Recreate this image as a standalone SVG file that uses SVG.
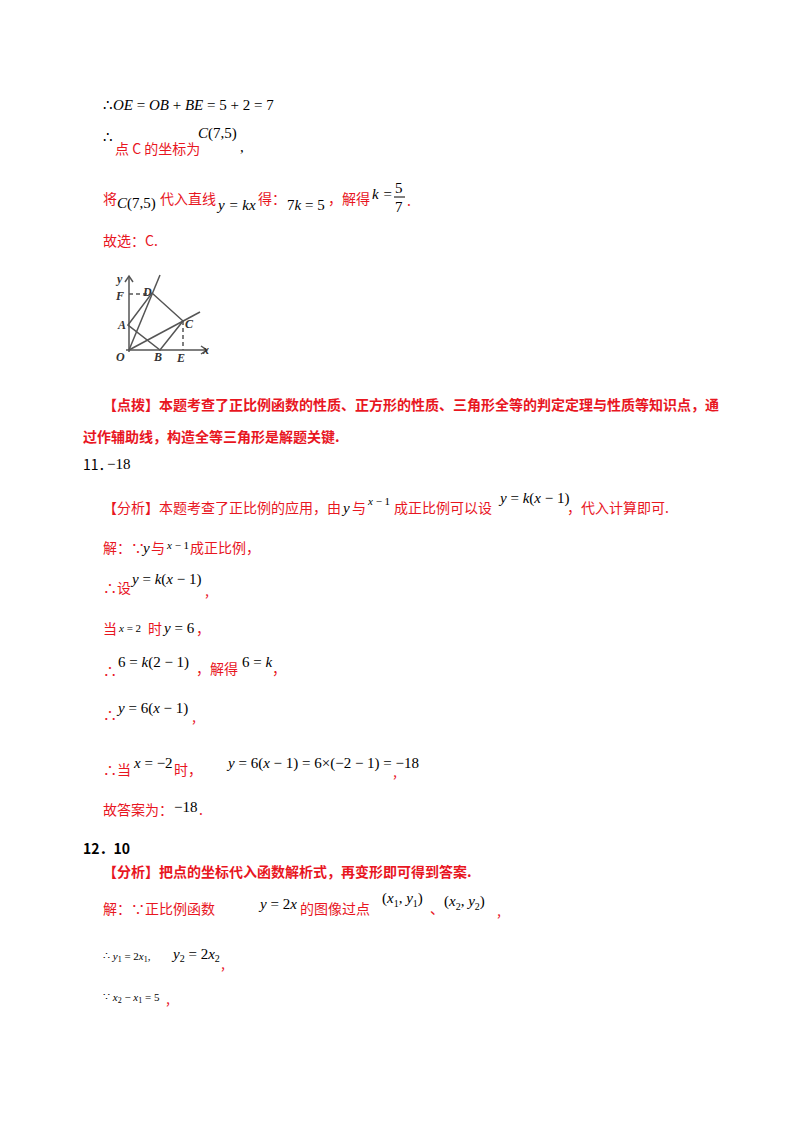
<svg xmlns="http://www.w3.org/2000/svg" width="800" height="1132" viewBox="0 0 800 1132">
<style>
.m{font-family:"Liberation Serif",serif;font-size:15px;fill:#000}
.i{font-style:italic}
.r{font-family:"Noto Sans CJK SC","Liberation Sans",sans-serif;font-size:14px;fill:#e8161f}
.b{font-family:"Noto Sans CJK SC","Liberation Sans",sans-serif;font-size:14px;fill:#000}
.s{font-size:11px}
.g{stroke:#555;stroke-width:1.5;fill:none}
.lb{font-family:"Liberation Serif",serif;font-style:italic;font-weight:bold;font-size:12px;fill:#333}
</style>
<rect width="800" height="1132" fill="#fff"/>
<text class="m" x="103" y="110">∴<tspan class="i">OE</tspan> = <tspan class="i">OB</tspan> + <tspan class="i">BE</tspan> = 5 + 2 = 7</text>
<text class="m" x="103" y="142">∴</text>
<text class="r" x="115" y="154">点 C 的坐标为</text>
<text class="m" x="198" y="138"><tspan class="i">C</tspan>(7,5)</text>
<text class="m" x="240" y="152">,</text>
<text class="r" x="103" y="204">将</text>
<text class="m" x="117" y="208"><tspan class="i">C</tspan>(7,5)</text>
<text class="r" x="160" y="204">代入直线</text>
<text class="m i" x="218" y="210">y = kx</text>
<text class="r" x="258" y="204">得：</text>
<text class="m" x="287" y="210">7<tspan class="i">k</tspan> = 5</text>
<text class="r" x="328" y="204">，解得</text>
<text class="m i" x="372" y="199">k =</text>
<text class="m" x="395" y="193">5</text>
<line x1="394" y1="197" x2="405" y2="197" stroke="#000" stroke-width="1"/>
<text class="m" x="395" y="212">7</text>
<text class="r" x="407" y="206">.</text>
<text class="r" x="103" y="246">故选：C.</text>
<g id="figure">
<line class="g" x1="129" y1="352" x2="129" y2="276"/>
<polyline class="g" points="125,282 129,276 133,282"/>
<line class="g" x1="126" y1="350" x2="207" y2="350"/>
<polyline class="g" points="201,346 207,350 201,354"/>
<line class="g" x1="129" y1="350" x2="160" y2="275"/>
<line class="g" x1="129" y1="350" x2="200" y2="312"/>
<polygon class="g" points="128,325 152,293 183,321 160,350"/>
<line class="g" x1="129" y1="294" x2="150" y2="294" stroke-dasharray="4,3"/>
<line class="g" x1="183" y1="321" x2="183" y2="350" stroke-dasharray="4,3"/>
<text class="lb" x="117" y="283">y</text>
<text class="lb" x="116" y="300">F</text>
<text class="lb" x="143" y="296">D</text>
<text class="lb" x="118" y="329">A</text>
<text class="lb" x="185" y="328">C</text>
<text class="lb" x="116" y="361">O</text>
<text class="lb" x="154" y="361">B</text>
<text class="lb" x="177" y="362">E</text>
<text class="lb" x="203" y="354">x</text>
</g>
<text class="r" x="103" y="410" font-weight="bold">【点拨】本题考查了正比例函数的性质、正方形的性质、三角形全等的判定定理与性质等知识点，通</text>
<text class="r" x="83" y="442" font-weight="bold">过作辅助线，构造全等三角形是解题关键.</text>
<text class="b" x="83" y="470">11．</text>
<text class="m" x="107" y="469">−18</text>
<text class="r" x="103" y="513">【分析】本题考查了正比例的应用，由</text>
<text class="m i" x="343" y="513">y</text>
<text class="r" x="352" y="513">与</text>
<text class="m s" x="368" y="505"><tspan class="i">x</tspan> − 1</text>
<text class="r" x="394" y="513">成正比例可以设</text>
<text class="m" x="500" y="503"><tspan class="i">y</tspan> = <tspan class="i">k</tspan>(<tspan class="i">x</tspan> − 1)</text>
<text class="r" x="567" y="513">，代入计算即可.</text>
<text class="r" x="103" y="553">解：∵</text>
<text class="m i" x="143" y="553">y</text>
<text class="r" x="151" y="553">与</text>
<text class="m s" x="167" y="549"><tspan class="i">x</tspan> − 1</text>
<text class="r" x="190" y="553">成正比例，</text>
<text class="r" x="103" y="593">∴设</text>
<text class="m" x="132" y="584"><tspan class="i">y</tspan> = <tspan class="i">k</tspan>(<tspan class="i">x</tspan> − 1)</text>
<text class="r" x="205" y="596">,</text>
<text class="r" x="103" y="634">当</text>
<text class="m s" x="119" y="632"><tspan class="i">x</tspan> = 2</text>
<text class="r" x="148" y="634">时</text>
<text class="m" x="164" y="633"><tspan class="i">y</tspan> = 6</text>
<text class="r" x="196" y="634">，</text>
<text class="r" x="103" y="676">∴</text>
<text class="m" x="118" y="667">6 = <tspan class="i">k</tspan>(2 − 1)</text>
<text class="r" x="196" y="674">，解得</text>
<text class="m" x="242" y="667">6 = <tspan class="i">k</tspan></text>
<text class="r" x="272" y="674">，</text>
<text class="r" x="103" y="720">∴</text>
<text class="m" x="118" y="713"><tspan class="i">y</tspan> = 6(<tspan class="i">x</tspan> − 1)</text>
<text class="r" x="192" y="722">,</text>
<text class="r" x="103" y="775">∴当</text>
<text class="m" x="134" y="768"><tspan class="i">x</tspan> = −2</text>
<text class="r" x="174" y="775">时，</text>
<text class="m" x="228" y="768"><tspan class="i">y</tspan> = 6(<tspan class="i">x</tspan> − 1) = 6×(−2 − 1) = −18</text>
<text class="r" x="393" y="777">,</text>
<text class="r" x="103" y="815">故答案为：</text>
<text class="m" x="174" y="812">−18</text>
<text class="r" x="199" y="815">.</text>
<text class="b" x="83" y="854" font-weight="bold">12．10</text>
<text class="r" x="103" y="877" font-weight="bold">【分析】把点的坐标代入函数解析式，再变形即可得到答案.</text>
<text class="r" x="103" y="914">解：∵正比例函数</text>
<text class="m" x="260" y="909"><tspan class="i">y</tspan> = 2<tspan class="i">x</tspan></text>
<text class="r" x="300" y="914">的图像过点</text>
<text class="m" x="382" y="903" font-size="18">(<tspan class="i" font-size="15">x</tspan><tspan font-size="10" dy="4">1</tspan><tspan font-size="15" dy="-4">, </tspan><tspan class="i" font-size="15">y</tspan><tspan font-size="10" dy="4">1</tspan><tspan dy="-4">)</tspan></text>
<text class="r" x="430" y="914">、</text>
<text class="m" x="444" y="906" font-size="18">(<tspan class="i" font-size="15">x</tspan><tspan font-size="10" dy="4">2</tspan><tspan font-size="15" dy="-4">, </tspan><tspan class="i" font-size="15">y</tspan><tspan font-size="10" dy="4">2</tspan><tspan dy="-4">)</tspan></text>
<text class="r" x="497" y="916">,</text>
<text class="m s" x="103" y="960">∴ <tspan class="i">y</tspan><tspan font-size="8" dy="2">1</tspan><tspan dy="-2"> = 2</tspan><tspan class="i">x</tspan><tspan font-size="8" dy="2">1</tspan><tspan dy="-2">,</tspan></text>
<text class="m" x="173" y="959"><tspan class="i">y</tspan><tspan font-size="10" dy="3">2</tspan><tspan dy="-3"> = 2</tspan><tspan class="i">x</tspan><tspan font-size="10" dy="3">2</tspan></text>
<text class="r" x="221" y="969">,</text>
<text class="m s" x="103" y="1001">∵ <tspan class="i">x</tspan><tspan font-size="8" dy="2">2</tspan><tspan dy="-2"> − </tspan><tspan class="i">x</tspan><tspan font-size="8" dy="2">1</tspan><tspan dy="-2"> = 5</tspan></text>
<text class="r" x="166" y="1004">,</text>
</svg>
